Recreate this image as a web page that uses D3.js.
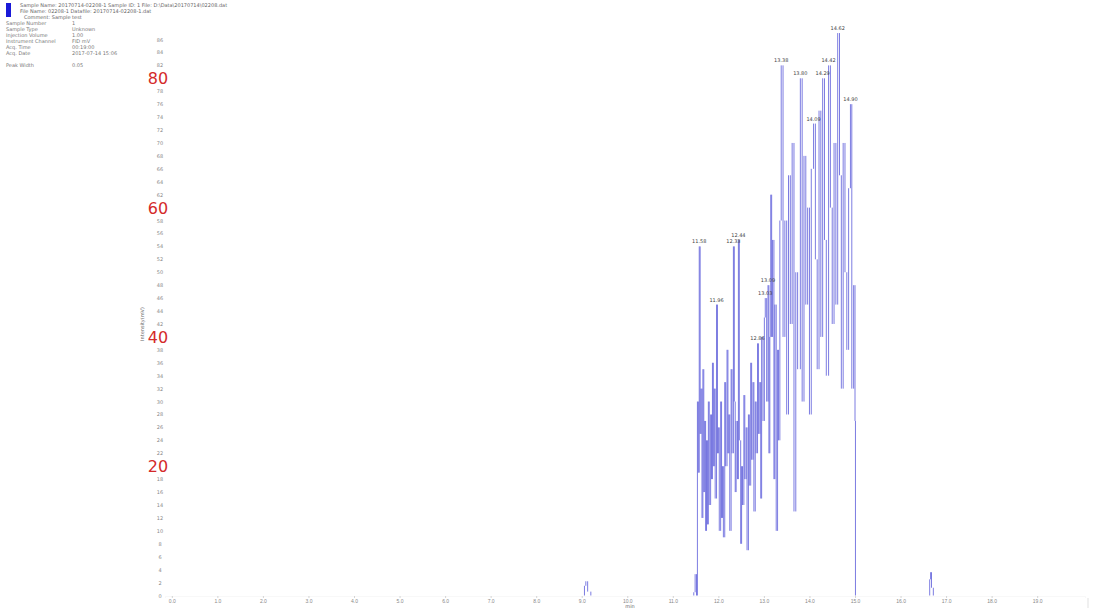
<!DOCTYPE html>
<html>
<head>
<meta charset="utf-8">
<script src="https://cdn.jsdelivr.net/npm/d3@7"></script>
<style>
  body { margin: 0; background: #fff; }
  svg { display: block; font-family: "DejaVu Sans", sans-serif; }
</style>
</head>
<body>
<svg id="mainSvg" width="1094" height="612"></svg>
<script>
// chromatogram trace: retention time (min) / intensity
let traceTime = [0, 9.0, 9.06, 9.09, 9.13, 9.2, 11.4, 11.46, 11.49, 11.52,
  11.54, 11.56, 11.58, 11.60, 11.62, 11.64, 11.66, 11.68, 11.70, 11.72,
  11.74, 11.76, 11.78, 11.80, 11.83, 11.85, 11.87, 11.89, 11.91, 11.93,
  11.96, 11.98, 12.00, 12.02, 12.05, 12.07, 12.09, 12.11, 12.14, 12.16,
  12.19, 12.21, 12.23, 12.25, 12.28, 12.30, 12.33, 12.35, 12.37, 12.39,
  12.42, 12.44, 12.46, 12.49, 12.51, 12.53, 12.56, 12.58, 12.61, 12.63,
  12.66, 12.68, 12.71, 12.73, 12.76, 12.78, 12.81, 12.83, 12.86, 12.88,
  12.91, 12.93, 12.95, 12.98, 13.01, 13.03, 13.06, 13.09, 13.11, 13.13,
  13.15, 13.17, 13.19, 13.22, 13.24, 13.27, 13.30, 13.32, 13.35, 13.38,
  13.42, 13.46, 13.50, 13.54, 13.58, 13.62, 13.66, 13.70, 13.74, 13.80,
  13.84, 13.88, 13.92, 13.96, 14.00, 14.04, 14.09, 14.13, 14.17, 14.21,
  14.25, 14.29, 14.33, 14.37, 14.42, 14.46, 14.50, 14.54, 14.58, 14.62,
  14.66, 14.70, 14.74, 14.78, 14.82, 14.86, 14.90, 14.93, 14.97, 15.00,
  15.01, 15.05, 16.60, 16.64, 16.66, 16.68, 16.72, 20.05]
let traceValue = [0, 0, 1.5, 2.2, 0.6, 0, 0, 0.5, 3.3, 0,
  30, 19, 54, 25, 32, 12, 35, 16, 27, 10,
  24, 11, 30, 14, 28, 18, 36, 20, 32, 15,
  45, 22, 26, 10, 30, 12, 20, 9, 33, 20,
  38, 22, 28, 10, 35, 22, 54, 30, 16, 27,
  18, 55, 24, 8, 20, 14, 31, 18, 26, 7,
  28, 17, 36, 21, 33, 13, 30, 22, 39, 25,
  33, 15, 40, 27, 43, 46, 30, 48, 22, 40,
  62, 40, 55, 18, 45, 10, 38, 24, 58, 82,
  40, 58, 28, 65, 42, 70, 13, 50, 35, 80,
  30, 68, 45, 60, 28, 66, 73, 52, 35, 75,
  40, 80, 55, 34, 82, 60, 42, 70, 45, 87,
  65, 32, 70, 50, 38, 63, 76, 32, 48, 27,
  0, 0, 0, 2.5, 3.6, 1.2, 0, 0]

// labelled peaks
let peakTimes = [11.58, 11.96, 12.33, 12.44, 12.86, 13.03, 13.09, 13.38, 13.80, 14.09, 14.29, 14.42, 14.62, 14.90]
let peakLabels = ['11.58', '11.96', '12.33', '12.44', '12.86', '13.03', '13.09', '13.38', '13.80', '14.09', '14.29', '14.42', '14.62', '14.90']
let peakValues = [54, 45, 54, 55, 39, 46, 48, 82, 80, 73, 80, 82, 87, 76]

let xTicks = d3.range(0, 20, 1)
let yTicks = d3.range(0, 88, 2)
let yBigTicks = [20, 40, 60, 80]

let headerLines = [
  'Sample Name: 20170714-02208-1    Sample ID: 1        File: D:\\Data\\20170714\\02208.dat',
  'File Name: 02208-1    Datafile: 20170714-02208-1.dat',
  'Comment:  Sample test'
]
let infoNames = ['Sample Number', 'Sample Type', 'Injection Volume', 'Instrument Channel', 'Acq. Time', 'Acq. Date', '', 'Peak Width']
let infoValues = ['1', 'Unknown', '1.00', 'FID  mV', '00:19:00', '2017-07-14  15:06', '', '0.05']

let svg = d3.select('#mainSvg')
let width = 1094
let height = 612

svg.append('rect').attr('width', width).attr('height', height).attr('fill', '#fff')

let x = d3.scaleLinear().domain([-0.15, 20.05]).range([165, 1085])
let y = d3.scaleLinear().domain([0, 88]).range([595.5, 26.6])

// header block
svg.append('rect')
  .attr('x', 6).attr('y', 3).attr('width', 5).attr('height', 14)
  .attr('fill', '#1a1ad8')

svg.append('g').selectAll('text')
  .data(headerLines)
  .enter()
  .append('text')
  .attr('x', (d, i) => i === 2 ? 24 : 20)
  .attr('y', (d, i) => 7 + i * 6)
  .attr('font-size', 5)
  .attr('fill', '#666')
  .text(d => d)

let info = svg.append('g')
info.selectAll('text.name')
  .data(infoNames)
  .enter()
  .append('text')
  .attr('class', 'name')
  .attr('x', 6)
  .attr('y', (d, i) => 25 + i * 6)
  .attr('font-size', 5)
  .attr('fill', '#777')
  .text(d => d)
info.selectAll('text.val')
  .data(infoValues)
  .enter()
  .append('text')
  .attr('class', 'val')
  .attr('x', 72)
  .attr('y', (d, i) => 25 + i * 6)
  .attr('font-size', 5)
  .attr('fill', '#777')
  .text(d => d)

// y axis labels (small)
svg.append('g').selectAll('text')
  .data(yTicks.filter(d => yBigTicks.indexOf(d) < 0))
  .enter()
  .append('text')
  .attr('x', 160)
  .attr('y', d => y(d) + 2)
  .attr('text-anchor', 'middle')
  .attr('font-size', 5)
  .attr('fill', '#888')
  .text(d => d)

// big red labels
svg.append('g').selectAll('text')
  .data(yBigTicks)
  .enter()
  .append('text')
  .attr('x', 158)
  .attr('y', d => y(d) + 6)
  .attr('text-anchor', 'middle')
  .attr('font-size', 16)
  .attr('fill', '#d42a2a')
  .text(d => d)

svg.append('text')
  .attr('transform', 'translate(144,' + y(42) + ') rotate(-90)')
  .attr('text-anchor', 'middle')
  .attr('font-size', 5)
  .attr('fill', '#666')
  .text('Intensity(mV)')

// x axis
let xAxis = d3.axisBottom(x)
  .tickValues(xTicks)
  .tickSize(2)
  .tickFormat(d3.format('.1f'))
let gx = svg.append('g')
  .attr('transform', 'translate(0,' + 596 + ')')
  .call(xAxis)
gx.select('.domain').attr('stroke', '#f0f0f0').attr('stroke-width', 0.5)
gx.selectAll('.tick line').attr('stroke', '#bbb').attr('stroke-width', 0.6)
gx.selectAll('.tick text').attr('font-size', 5).attr('fill', '#888').attr('dy', '0.3em')

svg.append('text')
  .attr('x', 630).attr('y', 608)
  .attr('text-anchor', 'middle')
  .attr('font-size', 5)
  .attr('fill', '#666')
  .text('min')

svg.append('line')
  .attr('x1', 1088).attr('x2', 1088).attr('y1', 598).attr('y2', 608)
  .attr('stroke', '#ccc').attr('stroke-width', 0.6)

// trace drawn as vertical strokes between successive samples
let segs = traceTime.slice(1).map((t, i) => ({ t: t, v0: traceValue[i], v1: traceValue[i + 1] }))

svg.append('g').selectAll('line')
  .data(segs)
  .enter()
  .append('line')
  .attr('x1', d => x(d.t))
  .attr('x2', d => x(d.t))
  .attr('y1', d => y(d.v0))
  .attr('y2', d => y(d.v1))
  .attr('stroke', '#4545d4')
  .attr('stroke-width', 1)
  .attr('stroke-opacity', 0.7)

// peak labels
svg.append('g').selectAll('text')
  .data(peakTimes)
  .enter()
  .append('text')
  .attr('x', d => x(d))
  .attr('y', (d, i) => y(peakValues[i]) - 3)
  .attr('text-anchor', 'middle')
  .attr('font-size', 5)
  .attr('fill', '#444')
  .text((d, i) => peakLabels[i])
</script>
</body>
</html>
